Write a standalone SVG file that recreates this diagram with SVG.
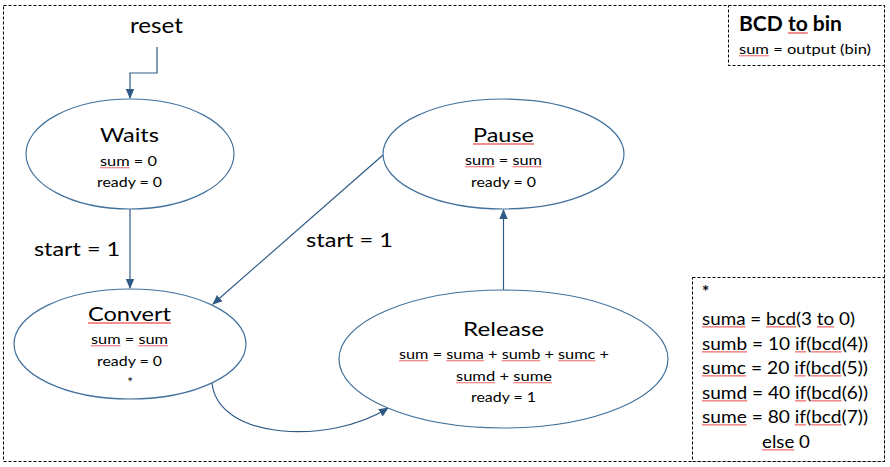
<svg xmlns="http://www.w3.org/2000/svg" width="890" height="467" viewBox="0 0 890 467">
<defs>
<marker id="arr" markerWidth="10" markerHeight="10" refX="9" refY="5" orient="auto" markerUnits="userSpaceOnUse">
<path d="M0,0.8 L10,5 L0,9.2 Z" fill="#2F5A86"/>
</marker>
<style>
text{font-family:Lato,"Liberation Sans",sans-serif;fill:#000;}
.big{font-size:20px;text-anchor:middle;}
.sm{font-size:13.5px;text-anchor:middle;}
.lbl{font-size:18.5px;}
.note{font-size:16.3px;}
.st{fill:#fff;stroke:#41719C;stroke-width:1.2;}
.cn{fill:none;stroke:#2F5A86;stroke-width:1.2;}
.box{fill:#fff;stroke:#000;stroke-width:1;stroke-dasharray:3,2;}
.sp{fill:#E8312F;fill-opacity:0.55;text-decoration:underline;text-decoration-thickness:1px;}
.k{fill:#000;fill-opacity:1;}
</style>
</defs>
<rect x="3.5" y="5.5" width="881" height="456" fill="#fff" stroke="#000" stroke-width="1" stroke-dasharray="3,2"/>

<g id="bcd-box">
<rect class="box" x="728.5" y="5.5" width="156" height="60"/>
<text x="739" y="31" style="font-size:20px;font-weight:bold;" textLength="103" lengthAdjust="spacingAndGlyphs">BCD <tspan class="sp"><tspan class="k">to</tspan></tspan> bin</text>
<text x="739" y="54" style="font-size:14px;" textLength="132" lengthAdjust="spacingAndGlyphs"><tspan class="sp"><tspan class="k">sum</tspan></tspan> = output (bin)</text>
</g>

<g id="note-box">
<rect class="box" x="692.5" y="277.5" width="192" height="184"/>
<text x="702" y="298" style="font-size:17px;font-weight:bold;">*</text>
<text class="note" x="702" y="325" textLength="153" lengthAdjust="spacingAndGlyphs"><tspan class="sp"><tspan class="k">suma</tspan></tspan> = <tspan class="sp"><tspan class="k">bcd</tspan></tspan>(3 <tspan class="sp"><tspan class="k">to</tspan></tspan> 0)</text>
<text class="note" x="702" y="350" textLength="166" lengthAdjust="spacingAndGlyphs"><tspan class="sp"><tspan class="k">sumb</tspan></tspan> = 10 <tspan class="sp"><tspan class="k">if</tspan></tspan>(<tspan class="sp"><tspan class="k">bcd</tspan></tspan>(4))</text>
<text class="note" x="702" y="374" textLength="166" lengthAdjust="spacingAndGlyphs"><tspan class="sp"><tspan class="k">sumc</tspan></tspan> = 20 <tspan class="sp"><tspan class="k">if</tspan></tspan>(<tspan class="sp"><tspan class="k">bcd</tspan></tspan>(5))</text>
<text class="note" x="702" y="399" textLength="166" lengthAdjust="spacingAndGlyphs"><tspan class="sp"><tspan class="k">sumd</tspan></tspan> = 40 <tspan class="sp"><tspan class="k">if</tspan></tspan>(<tspan class="sp"><tspan class="k">bcd</tspan></tspan>(6))</text>
<text class="note" x="702" y="423" textLength="166" lengthAdjust="spacingAndGlyphs"><tspan class="sp"><tspan class="k">sume</tspan></tspan> = 80 <tspan class="sp"><tspan class="k">if</tspan></tspan>(<tspan class="sp"><tspan class="k">bcd</tspan></tspan>(7))</text>
<text class="note" x="786" y="448" text-anchor="middle" textLength="48" lengthAdjust="spacingAndGlyphs"><tspan class="sp"><tspan class="k">else</tspan></tspan> 0</text>
</g>

<g id="connectors">
<path class="cn" d="M157,47 V73 H130 V98" marker-end="url(#arr)"/>
<path class="cn" d="M130,209 V288" marker-end="url(#arr)"/>
<path class="cn" d="M383,155 L213,304" marker-end="url(#arr)"/>
<path class="cn" d="M503.5,290 V210" marker-end="url(#arr)"/>
<path class="cn" d="M212,383 C218,440 330,445 388,408" marker-end="url(#arr)"/>
</g>

<g id="labels">
<text x="156.5" y="33" style="font-size:22px;" text-anchor="middle" textLength="53" lengthAdjust="spacingAndGlyphs">reset</text>
<text class="lbl" x="34" y="256" textLength="86" lengthAdjust="spacingAndGlyphs">start = 1</text>
<text class="lbl" x="306" y="247" textLength="87" lengthAdjust="spacingAndGlyphs">start = 1</text>
</g>

<g id="waits">
<ellipse class="st" cx="130" cy="154" rx="104" ry="55"/>
<text class="big" x="129.5" y="142" textLength="59" lengthAdjust="spacingAndGlyphs">Waits</text>
<text class="sm" x="128.5" y="166" textLength="57" lengthAdjust="spacingAndGlyphs"><tspan class="sp"><tspan class="k">sum</tspan></tspan> = 0</text>
<text class="sm" x="129.5" y="187" textLength="65" lengthAdjust="spacingAndGlyphs">ready = 0</text>
</g>

<g id="convert">
<ellipse class="st" cx="130" cy="344" rx="116" ry="55"/>
<text class="big" x="129.5" y="321" textLength="83" lengthAdjust="spacingAndGlyphs"><tspan class="sp"><tspan class="k">Convert</tspan></tspan></text>
<text class="sm" x="129.5" y="344" textLength="77" lengthAdjust="spacingAndGlyphs"><tspan class="sp"><tspan class="k">sum</tspan></tspan> = <tspan class="sp"><tspan class="k">sum</tspan></tspan></text>
<text class="sm" x="129.5" y="366" textLength="65" lengthAdjust="spacingAndGlyphs">ready = 0</text>
<text class="sm" x="130" y="387">*</text>
</g>

<g id="pause">
<ellipse class="st" cx="503.5" cy="154" rx="120.5" ry="55"/>
<text class="big" x="503.5" y="142" textLength="61" lengthAdjust="spacingAndGlyphs"><tspan class="sp"><tspan class="k">Pause</tspan></tspan></text>
<text class="sm" x="503.5" y="165" textLength="77" lengthAdjust="spacingAndGlyphs"><tspan class="sp"><tspan class="k">sum</tspan></tspan> = <tspan class="sp"><tspan class="k">sum</tspan></tspan></text>
<text class="sm" x="503.5" y="187" textLength="65" lengthAdjust="spacingAndGlyphs">ready = 0</text>
</g>

<g id="release">
<ellipse class="st" cx="503.5" cy="359" rx="164.5" ry="69"/>
<text class="big" x="503.5" y="336" textLength="81" lengthAdjust="spacingAndGlyphs">Release</text>
<text class="sm" x="504" y="359" textLength="210" lengthAdjust="spacingAndGlyphs"><tspan class="sp"><tspan class="k">sum</tspan></tspan> = <tspan class="sp"><tspan class="k">suma</tspan></tspan> + <tspan class="sp"><tspan class="k">sumb</tspan></tspan> + <tspan class="sp"><tspan class="k">sumc</tspan></tspan> +</text>
<text class="sm" x="504" y="381" textLength="96" lengthAdjust="spacingAndGlyphs"><tspan class="sp"><tspan class="k">sumd</tspan></tspan> + <tspan class="sp"><tspan class="k">sume</tspan></tspan></text>
<text class="sm" x="503.5" y="402" textLength="65" lengthAdjust="spacingAndGlyphs">ready = 1</text>
</g>
</svg>
